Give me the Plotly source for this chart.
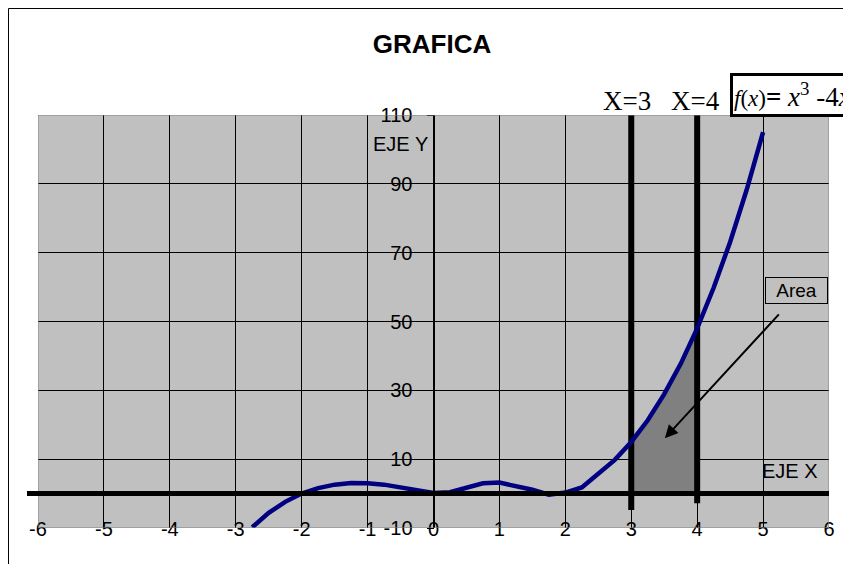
import plotly.graph_objects as go

# ---- data ----
x_vals = [-2.75, -2.5, -2.25, -2.0, -1.75, -1.5, -1.25, -1.0, -0.75, -0.5, -0.25, 0.0,
          0.25, 0.5, 0.75, 1.0, 1.25, 1.5, 1.75, 2.0, 2.25, 2.5, 2.75, 3.0,
          3.25, 3.5, 3.75, 4.0, 4.25, 4.5, 4.75, 5.0]
y_vals = [-9.8, -5.6, -2.4, 0.0, 1.6, 2.6, 3.05, 3.0, 2.6, 1.9, 1.0, 0.2,
          0.4, 1.8, 3.0, 3.2, 2.3, 1.1, -0.3, 0.3, 1.8, 5.6, 9.8, 15.0,
          21.3, 28.9, 37.7, 48.0, 59.8, 73.1, 88.2, 105.0]
bounds = [3, 4]               # X=3, X=4 vertical limits
bound_bottom = [-4.8, -2.8]   # lower ends of those limit lines
x_ticks = [-6, -5, -4, -3, -2, -1, 0, 1, 2, 3, 4, 5, 6]
x_labels = ["-6", "-5", "-4", "-3", "-2", "-1", "0", "1", "2", "3", "4", "5", "6"]
y_ticks = [-10, 10, 30, 50, 70, 90, 110]
y_labels = ["-10", "10", "30", "50", "70", "90", "110"]
x_range = [-6, 6]
y_range = [-10, 110]

FONT = "Arial, Liberation Sans, sans-serif"
SERIF = "Times New Roman, Liberation Serif, serif"

W, H = 843, 556   # page has an 8px body margin

fig = go.Figure()

# shaded area between the bounds
sx = [x for x in x_vals if bounds[0] <= x <= bounds[1]]
sy = [y for x, y in zip(x_vals, y_vals) if bounds[0] <= x <= bounds[1]]
fig.add_trace(go.Scatter(x=sx, y=sy, mode="lines", fill="tozeroy",
                         fillcolor="#808080", line=dict(width=0, color="#808080"),
                         hoverinfo="skip"))

# thick limit lines
for b, yb in zip(bounds, bound_bottom):
    fig.add_trace(go.Scatter(x=[b, b], y=[yb, y_range[1]], mode="lines",
                             line=dict(color="black", width=6), hoverinfo="skip"))

# the function curve
fig.add_trace(go.Scatter(x=x_vals, y=y_vals, mode="lines",
                         line=dict(color="#000080", width=4.5)))

fig.update_layout(
    width=W, height=H,
    margin=dict(l=30, r=22, t=107, b=36),
    paper_bgcolor="white", plot_bgcolor="#c0c0c0",
    showlegend=False,
    title=dict(text="<b>GRAFICA</b>", x=424 / W, xref="container", xanchor="center",
               y=1 - 36 / H, yref="container", yanchor="middle",
               font=dict(family=FONT, size=26, color="black")),
    xaxis=dict(range=x_range, tickmode="array", tickvals=x_ticks, ticktext=x_labels,
               showgrid=True, gridcolor="black", gridwidth=1, zeroline=False,
               showline=False, ticks="", ticklabelstandoff=-13,
               tickfont=dict(family=FONT, size=20, color="black")),
    yaxis=dict(range=y_range, tickmode="array", tickvals=y_ticks, ticktext=y_labels,
               showgrid=True, gridcolor="black", gridwidth=1, zeroline=False,
               anchor="free", position=0.5, showline=True, linecolor="black", linewidth=1,
               ticks="outside", ticklen=7, tickcolor="black", ticklabelstandoff=10,
               tickfont=dict(family=FONT, size=20, color="black")),
)

# plot-area border (gray) and zero line
fig.add_shape(type="rect", xref="x", yref="y", x0=x_range[0], x1=x_range[1],
              y0=y_range[0], y1=y_range[1], line=dict(color="#808080", width=1),
              fillcolor="rgba(0,0,0,0)", layer="above")
fig.add_shape(type="line", xref="paper", yref="y", x0=-0.0139, x1=1.0, y0=0, y1=0,
              line=dict(color="black", width=5), layer="above")
# chart-area border
fig.add_shape(type="rect", xref="paper", yref="paper", x0=-0.0373, x1=1.2,
              y0=-0.3, y1=1.2579, line=dict(color="black", width=1),
              fillcolor="rgba(0,0,0,0)", layer="above")

# labels
fig.add_annotation(x=5.41, y=6.5, xref="x", yref="y", text="EJE X", showarrow=False,
                   font=dict(family=FONT, size=20, color="black"))
fig.add_annotation(x=-0.5, y=101.5, xref="x", yref="y", text="EJE Y", showarrow=False,
                   font=dict(family=FONT, size=20, color="black"))
for b, xc in zip(bounds, [2.94, 3.98]):
    fig.add_annotation(x=xc, y=1.034, xref="x", yref="paper", text="X=%d" % b,
                       showarrow=False, yanchor="middle",
                       font=dict(family=SERIF, size=27, color="black"))
fig.add_annotation(x=0.875, y=1.048, xref="paper", yref="paper", xanchor="left",
                   yanchor="middle", showarrow=False, align="left",
                   text='<span style="font-size:23px"><i>f</i>(<i>x</i>)</span><b>=</b> '
                        '<i>x</i><sup>3</sup> -4<i>x</i>',
                   font=dict(family=SERIF, size=27, color="black"),
                   bordercolor="black", borderwidth=3, borderpad=1, bgcolor="white",
                   height=36, width=150)
# "Area" label and arrow
fig.add_annotation(x=5.5, y=58.9, xref="x", yref="y", text="Area", showarrow=False,
                   font=dict(family=FONT, size=19, color="black"),
                   bordercolor="black", borderwidth=1, borderpad=0, bgcolor="#c0c0c0",
                   width=61, height=25)
fig.add_annotation(x=3.51, y=16.1, xref="x", yref="y", ax=5.26, ay=52.5,
                   axref="x", ayref="y", text="", showarrow=True,
                   arrowhead=2, arrowsize=1.3, arrowwidth=2, arrowcolor="black")

fig.write_html("out.html")
